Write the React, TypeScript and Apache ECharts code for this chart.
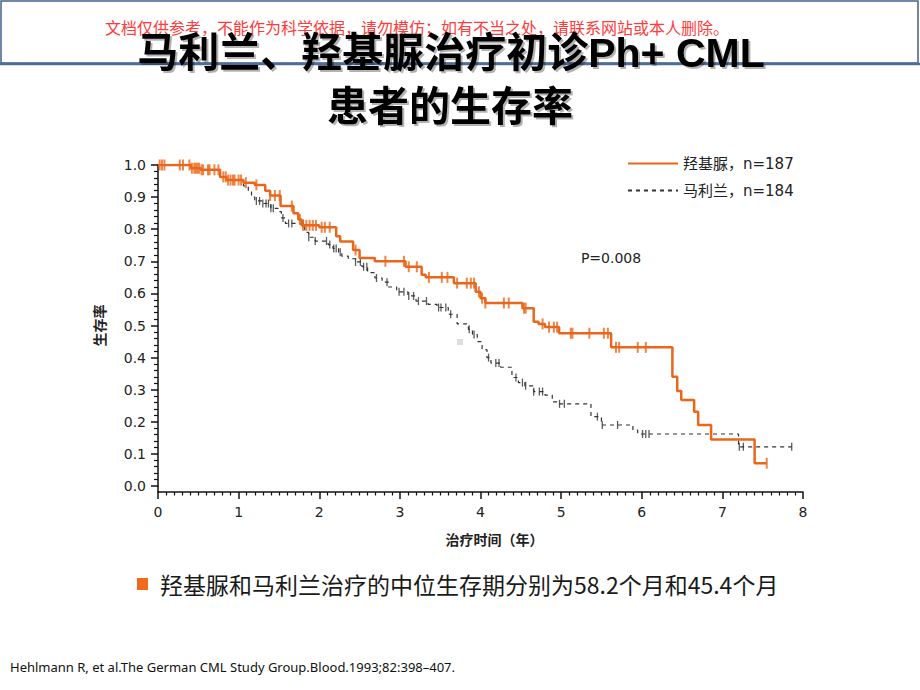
import React, { useEffect, useRef } from "react";
import * as echarts from "echarts";

// ---- Data ----
const xTickLabels = ["0", "1", "2", "3", "4", "5", "6", "7", "8"];

const hydroxyName = "羟基脲，n=187";
const hydroxyTimes = [0, 0.41, 0.53, 0.77, 0.85, 1.06, 1.2, 1.33, 1.39, 1.52, 1.68, 1.74, 1.78, 2.0, 2.21, 2.26, 2.42, 2.5, 2.69, 3.07, 3.27, 3.32, 3.67, 3.94, 4.0, 4.06, 4.52, 4.66, 4.72, 4.8, 4.975, 5.62, 6.38, 6.44, 6.49, 6.65, 6.7, 6.86, 7.4];
const hydroxySurv = [1.0, 0.99, 0.985, 0.963, 0.953, 0.945, 0.938, 0.92, 0.905, 0.872, 0.85, 0.83, 0.812, 0.806, 0.778, 0.762, 0.735, 0.71, 0.7, 0.683, 0.658, 0.65, 0.632, 0.605, 0.585, 0.57, 0.554, 0.512, 0.505, 0.495, 0.476, 0.432, 0.34, 0.296, 0.268, 0.231, 0.19, 0.145, 0.071];
const hydroxyEnd = 7.55;
const hydroxyCensor = [0.02, 0.05, 0.08, 0.27, 0.31, 0.39, 0.42, 0.45, 0.47, 0.49, 0.51, 0.54, 0.56, 0.62, 0.64, 0.7, 0.75, 0.81, 0.84, 0.87, 0.9, 0.93, 0.95, 1.0, 1.03, 1.09, 1.22, 1.39, 1.45, 1.51, 1.66, 1.76, 1.8, 1.84, 1.88, 1.92, 1.96, 2.03, 2.07, 2.13, 2.45, 2.82, 3.05, 3.11, 3.21, 3.36, 3.52, 3.59, 3.71, 3.83, 3.88, 3.92, 3.98, 4.02, 4.06, 4.29, 4.35, 4.54, 4.56, 4.77, 4.85, 4.91, 4.95, 5.12, 5.14, 5.35, 5.53, 5.58, 5.68, 5.72, 5.95, 6.05, 7.55];

const busulfanName = "马利兰，n=184";
const busulfanTimes = [0, 0.41, 0.53, 0.77, 0.85, 1.06, 1.12, 1.16, 1.2, 1.3, 1.4, 1.49, 1.53, 1.58, 1.82, 1.87, 1.95, 2.11, 2.17, 2.24, 2.28, 2.36, 2.45, 2.53, 2.6, 2.69, 2.78, 2.86, 2.96, 3.1, 3.2, 3.35, 3.46, 3.6, 3.71, 3.85, 3.9, 3.96, 4.02, 4.08, 4.13, 4.25, 4.39, 4.47, 4.55, 4.66, 4.8, 4.89, 4.98, 5.37, 5.5, 5.89, 5.95, 7.2];
const busulfanSurv = [1.0, 0.99, 0.985, 0.963, 0.953, 0.935, 0.92, 0.9, 0.888, 0.88, 0.865, 0.855, 0.835, 0.818, 0.79, 0.775, 0.763, 0.752, 0.74, 0.728, 0.716, 0.708, 0.698, 0.683, 0.665, 0.648, 0.635, 0.62, 0.605, 0.592, 0.576, 0.566, 0.556, 0.535, 0.505, 0.488, 0.472, 0.45, 0.425, 0.4, 0.383, 0.37, 0.338, 0.322, 0.312, 0.294, 0.283, 0.262, 0.256, 0.216, 0.19, 0.174, 0.162, 0.122];
const busulfanEnd = 7.86;
const busulfanCensor = [1.22, 1.26, 1.3, 1.34, 1.37, 1.4, 1.43, 1.55, 1.62, 1.66, 1.8, 1.87, 1.95, 2.09, 2.13, 2.18, 2.21, 2.26, 2.45, 2.51, 2.55, 2.59, 2.71, 2.84, 2.99, 3.05, 3.11, 3.17, 3.23, 3.33, 3.48, 3.51, 3.57, 3.63, 3.86, 3.92, 4.1, 4.19, 4.23, 4.44, 4.52, 4.56, 4.66, 4.73, 4.77, 4.98, 5.04, 5.45, 5.51, 5.7, 6.01, 6.05, 6.09, 7.21, 7.26, 7.86];

const pValueText = "P=0.008";
const titleLine1 = "马利兰、羟基脲治疗初诊Ph+ CML";
const titleLine2 = "患者的生存率";
const watermark = "文档仅供参考，不能作为科学依据，请勿模仿；如有不当之处，请联系网站或本人删除。";
const bulletText = "羟基脲和马利兰治疗的中位生存期分别为58.2个月和45.4个月";
const citation = "Hehlmann R, et al.The German CML Study Group.Blood.1993;82:398–407.";

// ---- helpers ----
function stepData(times: number[], surv: number[], end: number) {
  const d = times.map((t, i) => [t, surv[i]]);
  d.push([end, surv[surv.length - 1]]);
  return d;
}
function survAt(times: number[], surv: number[], t: number) {
  let s = surv[0];
  for (let i = 0; i < times.length; i++) {
    if (times[i] <= t) s = surv[i];
  }
  return s;
}

const ORANGE = "#ea661b";
const LATIN = "'DejaVu Sans', 'Noto Sans CJK SC', sans-serif";
const CJK = "'Noto Sans CJK SC', sans-serif";

const GRID = { left: 158, right: 117, top: 165, bottom: 204 };

export default function App() {
  const ref = useRef<HTMLDivElement>(null);
  useEffect(() => {
    if (!ref.current) return;
    const chart = echarts.init(ref.current, undefined, { renderer: "svg" });
    const axisBottom = 690 - GRID.bottom;
    const option: any = {
      animation: false,
      backgroundColor: "#ffffff",
      grid: { ...GRID },
      legend: {
        data: [hydroxyName, busulfanName],
        orient: "vertical",
        left: 622,
        top: 151,
        itemWidth: 50,
        itemHeight: 14,
        itemGap: 12,
        itemStyle: { opacity: 0 },
        textStyle: { fontSize: 15, fontFamily: LATIN, color: "#222" },
      },
      xAxis: {
        type: "value",
        min: 0,
        max: 8,
        interval: 1,
        offset: 6,
        axisLine: { show: true, onZero: false, lineStyle: { color: "#111", width: 1.5 } },
        axisTick: { show: true, length: 7, lineStyle: { color: "#111", width: 1.5 } },
        minorTick: { show: true, splitNumber: 10, length: 3.5, lineStyle: { color: "#111", width: 1.2 } },
        splitLine: { show: false },
        axisLabel: {
          margin: 13,
          fontSize: 14,
          fontFamily: LATIN,
          color: "#222",
          formatter: (v: number) => xTickLabels[Math.round(v)] ?? "",
        },
        name: "治疗时间（年）",
        nameLocation: "middle",
        nameGap: 40,
        nameTextStyle: { fontSize: 14, fontWeight: "bold", fontFamily: CJK, color: "#222", padding: [0, 0, 0, 28] },
      },
      yAxis: {
        type: "value",
        min: 0,
        max: 1,
        interval: 0.1,
        axisLine: { show: true, onZero: false, lineStyle: { color: "#111", width: 1.5 } },
        axisTick: { show: true, length: 7, lineStyle: { color: "#111", width: 1.5 } },
        minorTick: { show: true, splitNumber: 5, length: 4, lineStyle: { color: "#111", width: 1.2 } },
        splitLine: { show: false },
        axisLabel: {
          margin: 12,
          fontSize: 14,
          fontFamily: LATIN,
          color: "#222",
          formatter: (v: number) => v.toFixed(1),
        },
        name: "生存率",
        nameLocation: "middle",
        nameGap: 52,
        nameRotate: 90,
        nameTextStyle: { fontSize: 14, fontWeight: "bold", fontFamily: CJK, color: "#222" },
      },
      series: [
        {
          name: busulfanName,
          type: "line",
          step: "end",
          symbol: "none",
          data: stepData(busulfanTimes, busulfanSurv, busulfanEnd),
          lineStyle: { color: "#333", width: 1.2, type: [4, 4] },
          itemStyle: { color: "#333" },
          z: 2,
        },
        {
          name: hydroxyName,
          type: "line",
          step: "end",
          symbol: "none",
          data: stepData(hydroxyTimes, hydroxySurv, hydroxyEnd),
          lineStyle: { color: ORANGE, width: 2.5 },
          itemStyle: { color: ORANGE },
          z: 3,
        },
        {
          name: "busulfan-censor",
          type: "scatter",
          symbol: "rect",
          symbolSize: [1.3, 8],
          data: busulfanCensor.map((t) => [t, survAt(busulfanTimes, busulfanSurv, t)]),
          itemStyle: { color: "#333" },
          z: 2,
          silent: true,
        },
        {
          name: "hydroxy-censor",
          type: "scatter",
          symbol: "rect",
          symbolSize: [2, 11],
          data: hydroxyCensor.map((t) => [t, survAt(hydroxyTimes, hydroxySurv, t)]),
          itemStyle: { color: ORANGE },
          z: 4,
          silent: true,
        },
      ],
      graphic: [
        {
          type: "rect",
          shape: { x: 1, y: 1, width: 917, height: 62 },
          style: { fill: "none", stroke: "#41608f", lineWidth: 1.5 },
          z: 1,
          silent: true,
        },
        {
          type: "line",
          shape: { x1: 0, y1: 64, x2: 920, y2: 64 },
          style: { stroke: "#4c6c9c", lineWidth: 2.5 },
          z: 1,
          silent: true,
        },
        {
          type: "text",
          x: 417,
          y: 27,
          style: {
            text: watermark,
            fill: "#ff3b3b",
            fontSize: 16,
            fontFamily: CJK,
            align: "center",
            verticalAlign: "middle",
          },
          z: 2,
        },
        {
          type: "text",
          x: 451,
          y: 53,
          style: {
            text: titleLine1,
            fill: "#000",
            fontSize: 41,
            fontWeight: "bold",
            fontFamily: "'Liberation Sans', 'Noto Sans CJK SC', sans-serif",
            align: "center",
            verticalAlign: "middle",
            textShadowColor: "rgba(0,0,0,0.3)",
            textShadowOffsetX: 2,
            textShadowOffsetY: 2,
            textShadowBlur: 1,
          },
          z: 10,
        },
        {
          type: "text",
          x: 450,
          y: 103,
          style: {
            text: titleLine2,
            fill: "#000",
            fontSize: 41,
            fontWeight: "bold",
            fontFamily: CJK,
            align: "center",
            verticalAlign: "middle",
            textShadowColor: "rgba(0,0,0,0.3)",
            textShadowOffsetX: 2,
            textShadowOffsetY: 2,
            textShadowBlur: 1,
          },
          z: 10,
        },
        {
          type: "line",
          shape: { x1: GRID.left, y1: axisBottom, x2: GRID.left, y2: axisBottom + 6.75 },
          style: { stroke: "#111", lineWidth: 1.5 },
          silent: true,
        },
        {
          type: "text",
          x: 611,
          y: 258,
          style: {
            text: pValueText,
            fill: "#222",
            fontSize: 14,
            fontFamily: LATIN,
            align: "center",
            verticalAlign: "middle",
          },
        },
        {
          type: "rect",
          shape: { x: 457, y: 339, width: 6, height: 6 },
          style: { fill: "#dedede" },
          silent: true,
        },
        {
          type: "rect",
          shape: { x: 137, y: 578, width: 11, height: 12 },
          style: { fill: "#f26a1b" },
          silent: true,
        },
        {
          type: "text",
          x: 160,
          y: 584,
          style: {
            text: bulletText,
            fill: "#1a1a1a",
            fontSize: 23,
            fontFamily: CJK,
            align: "left",
            verticalAlign: "middle",
          },
        },
        {
          type: "text",
          x: 10,
          y: 667,
          style: {
            text: citation,
            fill: "#111",
            fontSize: 13,
            fontFamily: "'Noto Sans', 'Open Sans', sans-serif",
            align: "left",
            verticalAlign: "middle",
          },
        },
      ],
    };
    chart.setOption(option);
    return () => chart.dispose();
  }, []);
  return (
    <div
      ref={ref}
      style={{ position: "fixed", left: 0, top: 0, width: 920, height: 690, background: "#fff" }}
    />
  );
}
